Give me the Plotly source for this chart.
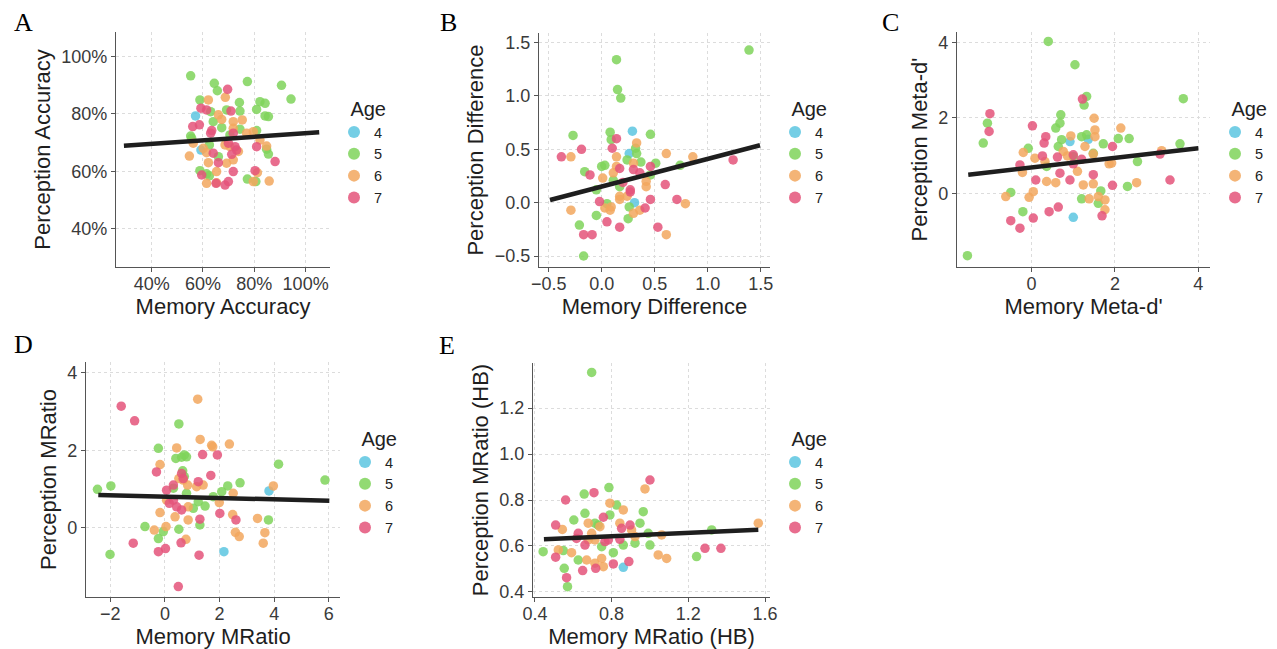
import plotly.graph_objects as go

W, H = 1277, 649
AGES = [4, 5, 6, 7]
AGE_COLORS = {4: "#5cc6e0", 5: "#7fd35a", 6: "#f2a75e", 7: "#e4537a"}

# ---------------- Panel A : Accuracy (proportions) ----------------
A_mem = {
    4: [0.571, 0.592],
    5: [0.552, 0.644, 0.656, 0.773, 0.906, 0.943, 0.588, 0.742, 0.822, 0.842, 0.809, 0.744, 0.692, 0.630,
        0.842, 0.855, 0.640, 0.673, 0.744, 0.809, 0.552, 0.556, 0.625, 0.660, 0.848, 0.855, 0.588, 0.614,
        0.625, 0.773, 0.806, 0.705],
    6: [0.621, 0.687, 0.753, 0.660, 0.673, 0.718, 0.562, 0.547, 0.601, 0.614, 0.686, 0.705, 0.738, 0.796,
        0.822, 0.848, 0.621, 0.653, 0.614, 0.653, 0.692, 0.718, 0.812, 0.796, 0.858, 0.718, 0.770],
    7: [0.696, 0.592, 0.614, 0.709, 0.560, 0.586, 0.634, 0.630, 0.718, 0.699, 0.725, 0.731, 0.809, 0.712,
        0.660, 0.640, 0.803, 0.718, 0.595, 0.651, 0.686, 0.699, 0.881],
}
A_perc = {
    4: [0.793, 0.674],
    5: [0.933, 0.907, 0.881, 0.913, 0.900, 0.852, 0.849, 0.840, 0.843, 0.837, 0.816, 0.810, 0.814, 0.808,
        0.793, 0.791, 0.773, 0.752, 0.747, 0.742, 0.723, 0.715, 0.692, 0.651, 0.677, 0.660, 0.602, 0.591,
        0.584, 0.573, 0.564, 0.727],
    6: [0.849, 0.858, 0.779, 0.797, 0.781, 0.773, 0.698, 0.653, 0.680, 0.665, 0.692, 0.686, 0.669, 0.738,
        0.709, 0.688, 0.630, 0.599, 0.558, 0.560, 0.628, 0.640, 0.595, 0.564, 0.566, 0.750, 0.733],
    7: [0.886, 0.820, 0.814, 0.810, 0.756, 0.762, 0.742, 0.733, 0.733, 0.698, 0.686, 0.674, 0.686, 0.659,
        0.630, 0.663, 0.602, 0.599, 0.587, 0.558, 0.552, 0.564, 0.634],
}
A_fit = {"intercept": 0.671, "slope": 0.0618, "x_from": 0.292, "x_to": 1.053}

# ---------------- Panel B : Difference ----------------
B_mem = {
    4: [0.29, 0.26, 0.31],
    5: [1.39, 0.14, 0.15, 0.18, -0.27, 0.08, 0.09, 0.46, 0.32, 0.33, 0.00, 0.03, -0.16, 0.37, 0.51, 0.24,
        -0.05, -0.05, 0.25, -0.21, -0.17, 0.17, 0.11, 0.26, 0.46, 0.74, 0.05],
    6: [-0.29, -0.29, 0.33, 0.14, 0.30, 0.61, 0.86, 0.79, 0.61, 0.01, 0.11, 0.17, 0.24, 0.09, 0.03, 0.17,
        0.42, 0.30, 0.36, 0.14, 0.42, 0.08],
    7: [-0.38, -0.19, 0.10, 0.14, -0.11, 0.17, 0.30, 0.46, 1.24, 0.60, 0.71, 0.46, -0.02, 0.05, 0.17, 0.53,
        -0.17, -0.09, 0.41, 0.27, 0.20, 0.36, 0.27],
}
B_perc = {
    4: [0.67, 0.46, 0.00],
    5: [1.43, 1.34, 1.06, 0.98, 0.63, 0.66, 0.59, 0.64, 0.51, 0.46, 0.34, 0.35, 0.29, 0.38, 0.37, 0.40,
        0.12, -0.12, -0.15, -0.21, -0.50, 0.15, 0.21, -0.04, 0.26, 0.35, -0.01],
    6: [0.43, -0.07, 0.56, 0.43, 0.37, 0.46, 0.43, -0.01, -0.30, 0.23, 0.28, 0.06, 0.06, -0.04, -0.05, 0.03,
        0.20, -0.10, -0.07, 0.34, 0.15, -0.07],
    7: [0.43, 0.50, 0.51, 0.60, 0.26, 0.32, 0.31, 0.34, 0.40, 0.17, 0.03, 0.03, 0.01, -0.18, -0.23, -0.23,
        -0.30, -0.30, -0.05, 0.12, 0.19, 0.28, 0.10],
}
B_fit = {"intercept": 0.151, "slope": 0.259, "x_from": -0.487, "x_to": 1.494}

# ---------------- Panel C : Meta-d' ----------------
C_mem = {
    4: [1.00, 0.92, 1.36],
    5: [0.40, 1.04, 3.64, 1.32, 1.26, 0.70, 0.68, 0.58, -1.06, -1.16, 3.56, 2.08, 2.34, 1.72, 1.20, 1.32,
        0.72, -0.08, 0.64, 1.48, 2.54, 2.30, 1.20, 1.66, 1.60, -0.50, -0.21, -1.54, 1.00, 0.36],
    6: [1.50, 0.94, 2.14, 1.52, 1.52, 1.28, 0.76, -0.20, 0.08, 0.32, 0.86, 1.48, 1.86, -0.22, 1.10, 0.36,
        0.58, 1.24, 1.48, 2.52, 3.12, -0.62, -0.06, 0.04, 1.60, 1.76, 1.76, 1.38, 1.92],
    7: [1.22, -1.00, -1.02, 0.02, 0.34, 0.30, 0.26, 0.62, 1.00, 1.94, 3.08, 3.32, -0.28, 0.10, 0.42, 0.64,
        0.04, -0.50, -0.28, 1.69, 1.94, 1.48, 0.68, 0.92, 1.20, 1.00],
}
C_perc = {
    4: [-0.64, 1.37, 1.43],
    5: [4.03, 3.41, 2.51, 2.57, 2.34, 2.08, 1.86, 1.73, 1.86, 1.33, 1.31, 1.45, 1.45, 1.31, 1.50, 1.55,
        1.42, 1.19, 1.24, 1.06, 0.84, 0.18, -0.15, 0.06, -0.27, 0.02, -0.49, -1.66, 0.97, 0.71],
    6: [1.99, 1.52, 1.73, 1.68, 1.50, 1.24, 1.11, 1.08, 0.93, 0.84, 0.99, 1.04, 0.78, 0.55, 0.58, 0.31,
        0.28, 0.22, 0.25, 0.28, 1.13, -0.09, -0.11, 0.04, -0.09, -0.18, -0.44, -0.15, 0.80],
    7: [2.50, 2.11, 1.64, 1.79, 1.50, 1.33, 0.99, 0.96, 1.02, 1.24, 1.04, 0.35, 0.75, 0.35, -0.49, -0.37,
        -0.66, -0.73, -0.93, -0.60, 0.21, 0.49, 0.53, 0.35, 0.90, 0.78],
}
C_fit = {"intercept": 0.682, "slope": 0.128, "x_from": -1.52, "x_to": 4.0}

# ---------------- Panel D : MRatio ----------------
D_mem = {
    4: [3.81, 2.16],
    5: [-2.47, -1.98, -2.01, -0.24, 0.51, 0.40, 0.61, 0.71, 0.79, 0.65, 0.71, 2.75, 2.30, 2.08, 5.86, 4.16,
        3.79, -0.73, -0.24, -0.06, 0.51, 1.28, 1.47, 1.77, 1.22, 0.79, 0.31, 1.04],
    6: [1.20, 1.29, 1.71, 1.75, 2.36, 0.43, -0.18, 0.51, 0.67, 0.83, 1.16, 1.40, -0.18, -0.39, 0.04, 0.37,
        0.85, 0.77, 1.99, 2.50, 2.48, 2.58, 2.72, 3.39, 3.66, 3.60, 3.97, 0.06, 0.85],
    7: [-1.60, -1.11, 1.38, 1.92, -0.31, 1.68, 0.61, 0.67, 0.31, 0.06, 0.16, 0.43, 0.61, 1.22, 1.28, 2.01,
        2.60, -1.16, -0.24, 0.02, 0.59, 1.25, 0.49, 0.31],
}
D_perc = {
    4: [0.95, -0.62],
    5: [0.99, 1.08, -0.69, 2.05, 2.68, 1.79, 1.82, 1.88, 1.83, 1.47, 1.32, 1.16, 1.08, 0.93, 1.23, 1.64,
        0.20, 0.03, -0.28, -0.10, -0.04, 0.07, 0.56, 0.80, 0.67, 0.89, 1.02, 0.50],
    6: [3.32, 2.28, 2.13, 2.09, 2.16, 2.06, 1.63, 1.27, 1.23, 1.10, 1.06, 1.10, 0.39, -0.06, 0.03, 0.28,
        0.20, -0.30, 0.65, 0.89, 0.34, -0.12, -0.23, 0.24, -0.13, -0.40, 1.08, 0.71, 0.54],
    7: [3.14, 2.76, 1.89, 1.88, 1.44, 1.35, 1.40, 1.27, 1.10, 0.97, 0.63, 0.54, 0.46, 1.19, 0.22, 0.37,
        0.20, -0.40, -0.62, -0.54, -0.39, -0.71, -1.52, 0.71],
}
D_fit = {"intercept": 0.801, "slope": -0.0173, "x_from": -2.44, "x_to": 6.02}

# ---------------- Panel E : MRatio (HB) ----------------
E_mem = {
    4: [0.861],
    5: [0.696, 0.657, 0.786, 0.826, 0.661, 0.965, 0.603, 0.730, 0.713, 0.791, 0.948, 0.443, 0.548, 0.626,
        0.809, 0.922, 1.000, 0.553, 0.570, 1.243, 1.322, 0.991, 0.861, 0.748],
    6: [0.974, 0.791, 0.861, 0.543, 0.678, 0.739, 0.843, 0.904, 0.696, 0.713, 0.922, 1.061, 0.591, 0.670,
        0.713, 0.748, 0.757, 1.043, 1.087, 1.565, 0.522, 0.678],
    7: [0.560, 0.708, 1.000, 0.508, 0.757, 0.852, 0.896, 0.626, 0.617, 0.661, 0.765, 0.508, 0.649, 0.717,
        0.809, 0.890, 0.565, 1.287, 1.370, 0.783, 0.843],
}
E_perc = {
    4: [0.507],
    5: [1.355, 0.826, 0.854, 0.778, 0.742, 0.749, 0.713, 0.691, 0.699, 0.735, 0.699, 0.575, 0.580, 0.539,
        0.571, 0.612, 0.604, 0.503, 0.423, 0.554, 0.670, 0.655, 0.604, 0.597],
    6: [0.848, 0.786, 0.757, 0.672, 0.699, 0.684, 0.699, 0.670, 0.655, 0.626, 0.641, 0.648, 0.571, 0.539,
        0.525, 0.546, 0.510, 0.561, 0.546, 0.699, 0.583, 0.626],
    7: [0.800, 0.832, 0.887, 0.691, 0.725, 0.677, 0.691, 0.655, 0.633, 0.604, 0.619, 0.551, 0.493, 0.503,
        0.522, 0.532, 0.462, 0.590, 0.590, 0.626, 0.629],
}
E_fit = {"intercept": 0.613, "slope": 0.0367, "x_from": 0.447, "x_to": 1.565}

# ---------------- layout description (pixels) ----------------
PANELS = [
    dict(letter="A", mem=A_mem, perc=A_perc, fit=A_fit,
         xtitle="Memory Accuracy", ytitle="Perception Accuracy",
         box=(116, 330, 32, 267), xr=(0.261, 1.095), yr=(0.266, 1.086),
         xt=[0.4, 0.6, 0.8, 1.0], yt=[0.4, 0.6, 0.8, 1.0], fmt=".0%",
         letter_xy=(23, 22), leg=(334, 90)),
    dict(letter="B", mem=B_mem, perc=B_perc, fit=B_fit,
         xtitle="Memory Difference", ytitle="Perception Difference",
         box=(539, 770, 33, 267), xr=(-0.591, 1.588), yr=(-0.603, 1.59),
         xt=[-0.5, 0.0, 0.5, 1.0, 1.5], yt=[-0.5, 0.0, 0.5, 1.0, 1.5], fmt=".1f",
         letter_xy=(448, 22), leg=(775, 90)),
    dict(letter="C", mem=C_mem, perc=C_perc, fit=C_fit,
         xtitle="Memory Meta-d'", ytitle="Perception Meta-d'",
         box=(957, 1210, 32, 267), xr=(-1.79, 4.28), yr=(-1.96, 4.28),
         xt=[0, 2, 4], yt=[0, 2, 4], fmt="d",
         letter_xy=(890, 22), leg=(1215, 90)),
    dict(letter="D", mem=D_mem, perc=D_perc, fit=D_fit,
         xtitle="Memory MRatio", ytitle="Perception MRatio",
         box=(86, 340, 362, 597), xr=(-2.89, 6.41), yr=(-1.79, 4.28),
         xt=[-2, 0, 2, 4, 6], yt=[0, 2, 4], fmt="d",
         letter_xy=(23, 344), leg=(345, 420)),
    dict(letter="E", mem=E_mem, perc=E_perc, fit=E_fit,
         xtitle="Memory MRatio (HB)", ytitle="Perception MRatio (HB)",
         box=(533, 770, 363, 597), xr=(0.39, 1.626), yr=(0.378, 1.396),
         xt=[0.4, 0.8, 1.2, 1.6], yt=[0.4, 0.6, 0.8, 1.0, 1.2], fmt=".1f",
         letter_xy=(447, 345), leg=(775, 420)),
]

FONT = "Liberation Sans, Arial, sans-serif"
AXIS_COL = "#555555"

fig = go.Figure()
layout = dict(
    width=W, height=H, margin=dict(l=0, r=0, t=0, b=0),
    paper_bgcolor="white", plot_bgcolor="white",
    font=dict(family=FONT, color="#222222"),
    annotations=[],
)

for i, p in enumerate(PANELS, start=1):
    sfx = "" if i == 1 else str(i)
    xa, ya = "x" + sfx, "y" + sfx
    leg = "legend" + sfx
    for age in AGES:
        fig.add_trace(go.Scatter(
            x=p["mem"][age], y=p["perc"][age], mode="markers",
            name=str(age), legend=leg, xaxis=xa, yaxis=ya,
            marker=dict(size=9.5, color=AGE_COLORS[age], opacity=0.85, line=dict(width=0)),
            hoverinfo="x+y+name",
        ))
    f = p["fit"]
    fx = [f["x_from"], f["x_to"]]
    fy = [f["intercept"] + f["slope"] * v for v in fx]
    fig.add_trace(go.Scatter(
        x=fx, y=fy, mode="lines", showlegend=False, xaxis=xa, yaxis=ya,
        line=dict(color="#1e1e1e", width=4.5), hoverinfo="skip",
    ))

    l, r, t, b = p["box"]
    common = dict(
        showline=True, linecolor=AXIS_COL, linewidth=1.4,
        ticks="outside", ticklen=4, tickwidth=1.2, tickcolor=AXIS_COL,
        tickfont=dict(family=FONT, size=18, color="#3a3a3a"),
        showgrid=True, gridcolor="#dcdcdc", gridwidth=1, griddash="dot",
        zeroline=False, tickformat=p["fmt"], automargin=False,
    )
    layout["xaxis" + sfx] = dict(
        common, domain=[l / W, r / W], anchor=ya, range=list(p["xr"]), tickvals=p["xt"],
        ticklabelstandoff=-4,
        title=dict(text=p["xtitle"], font=dict(family=FONT, size=22, color="#1e1e1e"), standoff=2),
    )
    layout["yaxis" + sfx] = dict(
        common, domain=[1 - b / H, 1 - t / H], anchor=xa, range=list(p["yr"]), tickvals=p["yt"],
        title=dict(text=p["ytitle"], font=dict(family=FONT, size=22, color="#1e1e1e"), standoff=4),
    )
    lx, ly = p["leg"]
    layout[leg] = dict(
        x=lx / W, y=1 - ly / H, xanchor="left", yanchor="top",
        bgcolor="rgba(0,0,0,0)", borderwidth=0,
        title=dict(text="Age", side="top right", font=dict(family=FONT, size=20, color="#222222")),
        font=dict(family=FONT, size=14.5, color="#222222"),
        itemsizing="constant", tracegroupgap=0,
    )
    cx, cy = p["letter_xy"]
    layout["annotations"].append(dict(
        text=p["letter"], x=cx / W, y=1 - cy / H, xref="paper", yref="paper",
        xanchor="center", yanchor="middle", showarrow=False,
        font=dict(family="Liberation Serif, Times New Roman, serif", size=26, color="black"),
    ))

fig.update_layout(**layout)
fig.write_html(
    "out.html",
    config={"displayModeBar": False},
    post_script="document.body.style.margin='0px';document.body.style.overflow='hidden';",
)
